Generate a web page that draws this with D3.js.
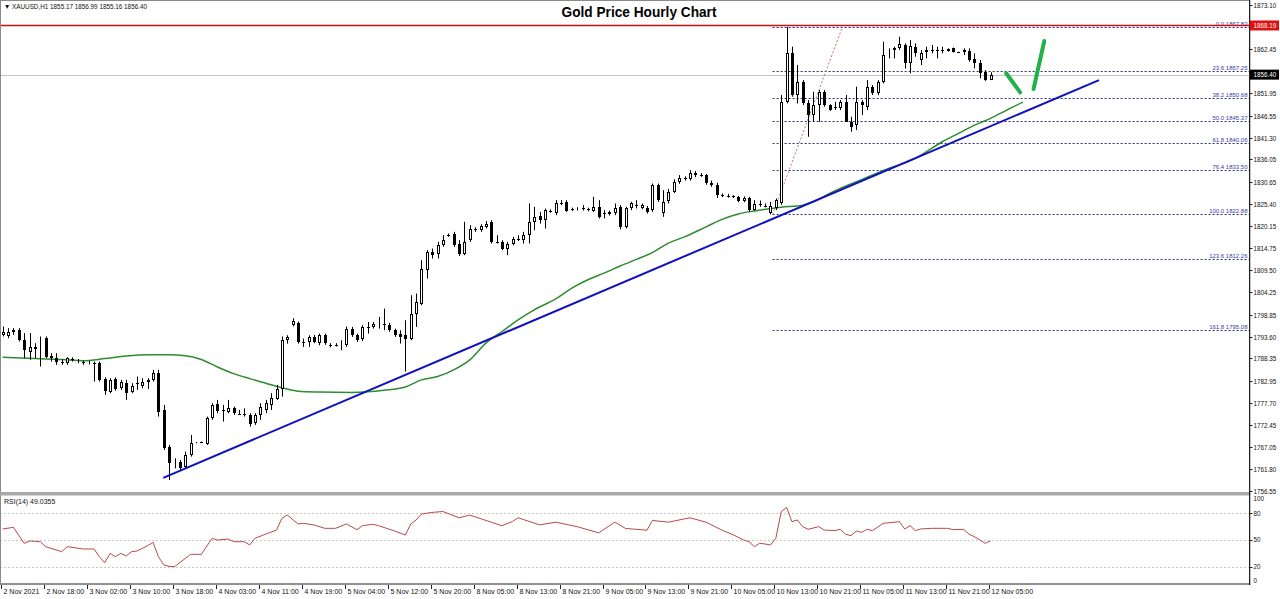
<!DOCTYPE html>
<html><head><meta charset="utf-8">
<script src="https://cdn.jsdelivr.net/npm/d3@7/dist/d3.min.js"></script>
<style>
body{margin:0;background:#fff;}
svg{display:block;}
text{font-family:"Liberation Sans",Arial,sans-serif;}
</style></head>
<body><svg id="c" width="1280" height="599"></svg>
<script>
// ---------- DATA ----------
const symbolHeader = "▼ XAUUSD,H1  1855.17 1856.99 1855.16 1856.40";
const title = "Gold Price Hourly Chart";
const rsiLabel = "RSI(14) 49.0355";
// hourly candles [open, high, low, close]
const ohlc = [
[1794.0,1796.0,1793.6,1794.8],[1793.8,1795.6,1793.2,1794.6],[1794.6,1795.6,1794.0,1795.2],[1795.2,1795.6,1792.4,1792.8],
[1792.8,1794.4,1788.4,1790.4],[1790.0,1794.4,1788.0,1791.2],[1791.2,1792.0,1788.4,1790.6],[1790.7,1793.6,1786.4,1790.9],
[1793.2,1793.6,1788.4,1788.8],[1789.0,1789.6,1787.6,1788.4],[1788.4,1789.6,1786.8,1787.6],[1787.6,1788.2,1786.8,1787.5],
[1787.2,1788.6,1786.8,1788.4],[1788.2,1788.6,1787.6,1788.0],[1787.6,1788.2,1787.2,1787.7],[1787.4,1787.8,1786.8,1787.3],
[1787.3,1787.8,1786.9,1787.4],[1787.3,1787.6,1782.8,1787.2],[1787.2,1787.6,1782.8,1783.2],[1783.4,1783.8,1779.6,1780.6],
[1780.4,1783.6,1780.0,1783.2],[1783.4,1783.8,1780.6,1781.0],[1781.2,1783.2,1780.8,1782.6],[1782.4,1783.2,1778.4,1780.1],
[1780.4,1782.4,1780.0,1781.7],[1782.4,1784.0,1780.8,1782.2],[1781.7,1783.6,1781.2,1782.8],[1782.8,1783.6,1781.0,1783.2],
[1783.2,1785.6,1782.8,1784.8],[1784.8,1785.6,1774.4,1775.6],[1776.0,1777.2,1766.4,1766.8],[1767.2,1767.6,1759.2,1763.2],
[1763.2,1764.4,1762.0,1763.6],[1763.6,1764.0,1761.6,1762.0],[1762.4,1766.0,1762.0,1765.2],[1765.2,1770.0,1764.8,1768.0],
[1768.1,1768.3,1768.0,1768.2],[1768.2,1768.4,1768.0,1768.1],[1767.8,1774.4,1767.6,1774.0],[1774.0,1777.6,1773.6,1777.2],
[1777.4,1778.4,1775.2,1775.8],[1776.0,1777.2,1773.2,1775.9],[1775.4,1778.4,1775.2,1776.4],[1776.4,1776.8,1774.8,1775.2],
[1775.1,1776.0,1774.8,1775.0],[1775.0,1776.4,1774.4,1774.9],[1774.8,1775.2,1772.0,1772.6],[1772.8,1775.2,1772.4,1774.8],
[1774.8,1777.6,1773.6,1776.6],[1776.0,1778.4,1775.2,1777.6],[1777.2,1780.0,1776.0,1778.8],[1778.5,1782.0,1778.4,1781.0],
[1781.0,1793.6,1779.2,1792.8],[1792.8,1793.9,1791.9,1793.5],[1796.4,1798.0,1796.0,1797.2],[1796.9,1797.2,1791.9,1792.4],
[1792.4,1793.1,1791.1,1792.3],[1792.3,1793.9,1791.1,1793.5],[1793.5,1794.0,1792.0,1792.3],[1792.0,1794.3,1791.5,1793.9],
[1793.9,1794.3,1791.6,1792.0],[1791.6,1792.0,1791.0,1791.5],[1791.5,1792.0,1791.2,1791.6],[1791.4,1792.7,1790.3,1791.5],
[1791.5,1796.0,1791.1,1795.5],[1795.5,1795.9,1793.5,1793.9],[1793.9,1794.3,1792.3,1792.7],[1792.9,1796.3,1792.5,1795.9],
[1795.9,1797.1,1794.3,1795.8],[1795.9,1797.1,1795.5,1796.7],[1796.7,1798.3,1795.5,1796.8],[1796.7,1800.3,1795.1,1796.6],
[1796.3,1796.9,1794.7,1795.1],[1795.1,1795.5,1793.5,1793.9],[1794.3,1795.1,1791.9,1793.5],[1793.9,1797.5,1785.2,1792.9],
[1792.9,1803.5,1792.7,1799.1],[1799.1,1803.9,1795.9,1801.9],[1801.5,1811.9,1801.1,1809.9],[1809.5,1814.3,1807.5,1813.9],
[1813.9,1814.7,1812.3,1813.1],[1813.5,1816.3,1812.3,1815.5],[1815.5,1817.9,1815.1,1816.7],[1817.9,1818.3,1817.5,1817.9],
[1818.3,1818.7,1815.1,1815.5],[1815.9,1816.7,1812.9,1813.5],[1813.5,1821.1,1813.1,1816.3],[1816.7,1820.3,1816.3,1819.5],
[1819.3,1819.8,1818.7,1819.3],[1819.1,1820.5,1818.7,1820.1],[1819.9,1821.3,1819.5,1820.7],[1821.1,1821.5,1815.9,1816.3],
[1816.3,1817.9,1815.9,1816.2],[1816.3,1816.7,1814.3,1814.7],[1814.5,1816.3,1813.1,1815.9],[1815.9,1817.5,1815.5,1817.1],
[1817.1,1817.9,1816.5,1817.1],[1816.7,1818.7,1815.9,1817.9],[1817.9,1825.5,1815.9,1821.1],[1821.1,1824.7,1819.1,1822.3],
[1822.5,1823.5,1820.7,1821.5],[1821.5,1824.3,1819.5,1823.9],[1823.8,1824.1,1823.3,1823.7],[1823.1,1826.3,1822.7,1825.5],
[1825.6,1826.3,1825.1,1825.7],[1825.9,1826.3,1823.5,1823.8],[1824.1,1824.5,1823.7,1824.0],[1824.2,1824.6,1823.8,1824.3],
[1824.3,1825.1,1823.8,1824.4],[1824.1,1824.5,1823.6,1824.0],[1823.8,1827.1,1823.5,1824.7],[1824.7,1826.3,1821.9,1822.3],
[1823.1,1823.9,1821.9,1823.2],[1823.0,1823.8,1822.6,1823.5],[1823.1,1825.5,1822.7,1824.3],[1824.7,1825.1,1819.3,1819.9],
[1819.9,1824.7,1819.5,1824.3],[1824.3,1825.9,1823.9,1825.5],[1825.1,1826.3,1824.3,1825.2],[1824.5,1825.5,1824.1,1825.1],
[1824.5,1824.9,1823.1,1823.5],[1823.9,1830.3,1823.5,1829.9],[1829.9,1830.3,1825.9,1826.3],[1823.1,1828.7,1822.3,1825.9],
[1826.0,1829.0,1825.5,1828.3],[1828.3,1831.3,1828.0,1830.7],[1830.7,1832.3,1830.2,1831.5],[1831.5,1832.0,1831.0,1831.3],
[1831.3,1833.5,1831.0,1832.7],[1832.7,1833.3,1831.8,1832.4],[1832.4,1832.8,1831.9,1832.3],[1832.3,1832.6,1830.0,1830.3],
[1830.3,1831.0,1829.5,1829.9],[1830.0,1830.5,1826.8,1827.5],[1827.5,1827.9,1827.0,1827.4],[1827.4,1827.8,1826.9,1827.2],
[1827.2,1827.5,1826.8,1827.0],[1827.0,1827.3,1825.8,1826.1],[1826.1,1827.2,1825.8,1826.7],[1826.7,1827.1,1823.5,1823.9],
[1823.9,1826.3,1823.8,1825.4],[1825.4,1826.2,1824.7,1825.3],[1825.0,1825.5,1824.6,1824.9],[1823.2,1825.9,1822.88,1824.9],
[1824.3,1826.7,1823.9,1826.3],[1825.6,1851.5,1825.2,1849.8],[1849.8,1867.83,1849.5,1861.5],[1861.5,1863.1,1851.1,1851.5],
[1851.5,1858.7,1849.5,1854.7],[1854.7,1855.1,1849.1,1849.5],[1849.5,1850.3,1841.5,1846.7],[1846.7,1852.3,1845.1,1849.1],
[1849.1,1852.7,1845.1,1852.3],[1852.3,1852.7,1848.7,1849.1],[1849.1,1849.3,1847.7,1847.9],[1848.6,1849.9,1847.9,1848.7],
[1848.3,1850.3,1847.9,1849.9],[1849.9,1851.5,1845.1,1845.1],[1845.1,1846.3,1842.7,1843.9],[1844.3,1853.5,1843.1,1849.9],
[1849.8,1850.3,1846.7,1849.0],[1848.7,1855.1,1847.9,1853.5],[1853.5,1853.9,1851.5,1851.9],[1851.9,1855.1,1851.5,1854.7],
[1854.7,1864.3,1854.3,1861.1],[1861.5,1862.7,1860.3,1861.9],[1862.3,1863.1,1860.3,1862.7],[1862.7,1865.5,1862.3,1863.7],
[1863.5,1863.9,1857.9,1859.1],[1859.1,1864.7,1856.7,1863.3],[1863.1,1863.9,1860.7,1861.5],[1859.9,1862.3,1858.7,1861.5],
[1861.8,1863.1,1860.3,1862.3],[1862.3,1863.5,1861.5,1862.4],[1862.3,1863.1,1860.3,1862.2],[1862.3,1863.1,1861.5,1862.4],
[1862.1,1862.7,1861.9,1862.5],[1862.7,1862.9,1861.7,1861.9],[1861.8,1861.9,1861.6,1861.7],[1861.8,1862.7,1861.1,1862.3],
[1862.1,1862.7,1859.5,1859.9],[1860.2,1861.5,1857.9,1859.1],[1859.1,1859.9,1855.5,1856.7],[1857.0,1857.5,1854.9,1855.1],
[1855.17,1856.99,1855.16,1856.40]
];
// moving average readings [bar, price]
const maPoints = [[0,1788.6],[6,1788.3],[12,1788.0],[15,1787.8],[19,1788.3],[23,1788.9],[27,1789.2],[31,1789.2],[34,1789.0],
[37,1788.1],[40,1786.3],[43,1784.7],[46,1783.5],[49,1782.4],[52,1781.3],[55,1780.5],[59,1780.3],[65,1780.2],[71,1780.7],
[75,1781.5],[78,1783.2],[81,1784.0],[84,1785.6],[87,1788.0],[90,1792.0],[93,1794.8],[96,1797.6],[99,1800.0],[103,1802.6],
[106,1805.2],[109,1807.2],[112,1808.8],[115,1810.5],[118,1812.1],[121,1813.7],[124,1816.0],[127,1817.5],[131,1819.9],
[134,1821.7],[137,1823.0],[140,1823.7],[145,1824.6],[149,1825.1],[151,1825.9],[154,1827.9],[156,1829.1],[159,1830.7],
[165,1833.9],[170,1836.3],[172,1837.9],[175,1840.3],[178,1842.3],[181,1844.3],[184,1845.9],[187,1847.9],[190,1849.8]];
// RSI(14) readings [bar, value]
const rsiPoints = [[0,62.4],[2,64.2],[4,46.3],[5,48.9],[7,48.1],[8,42.5],[11,36.9],[12,42.5],[15,39.9],[17,39.9],[18,31.3],
[19,24.5],[20,35.0],[21,31.3],[22,35.0],[23,32.0],[24,36.9],[25,37.6],[27,43.6],[28,47.4],[29,31.3],[30,22.0],[31,20.4],
[32,20.0],[35,33.9],[37,33.9],[39,51.9],[40,50.0],[42,51.1],[43,48.1],[45,48.1],[46,44.4],[47,51.9],[49,56.7],[51,61.2],
[52,74.3],[53,78.1],[55,68.0],[56,68.7],[58,66.9],[60,63.1],[62,63.1],[64,68.0],[66,61.6],[67,66.1],[69,67.6],[70,66.1],
[73,60.1],[75,55.6],[76,68.0],[77,72.5],[78,79.2],[80,81],[82,82],[85,75],[87,78],[91,70],[93,66],[95,71],[96,75],[100,67],
[103,70],[107,65],[111,58],[114,70],[116,63],[120,61],[121,72],[124,70],[128,75],[131,70],[134,61],[136,56],
[138,50.0],[139,48.1],[140,42.5],[141,46.3],[142,45.5],[143,44.4],[144,51.9],[145,81.8],[146,86.7],[147,70.6],[148,72.5],
[149,65.0],[150,62.0],[152,65.0],[153,61.2],[155,60.5],[156,62.0],[157,56.4],[158,54.9],[159,60.1],[160,58.6],[161,62.0],
[162,60.5],[164,68.7],[167,70.6],[168,62.4],[169,66.1],[170,60.5],[171,62.4],[173,63.1],[176,63.1],[177,61.6],[179,62.0],
[180,56.4],[181,53.7],[183,46.3],[184,49.0355]];
const rsiLevels = [80, 50, 20];
const rsiTickLabels = ["100","80","50","20","0"];
const rsiTickValues = [100,80,50,20,0];
const priceTickLabels = ["1873.10","1862.45","1851.95","1846.55","1841.30","1836.05","1830.65","1825.40",
"1820.15","1814.75","1809.50","1804.25","1798.85","1793.60","1788.35","1782.95","1777.70","1772.45","1767.05","1761.80","1756.55"];
const timeLabels = ["2 Nov 2021","2 Nov 18:00","3 Nov 02:00","3 Nov 10:00","3 Nov 18:00","4 Nov 03:00","4 Nov 11:00",
"4 Nov 19:00","5 Nov 04:00","5 Nov 12:00","5 Nov 20:00","8 Nov 05:00","8 Nov 13:00","8 Nov 21:00","9 Nov 05:00",
"9 Nov 13:00","9 Nov 21:00","10 Nov 05:00","10 Nov 13:00","10 Nov 21:00","11 Nov 05:00","11 Nov 13:00","11 Nov 21:00","12 Nov 05:00"];
const timeLabelBars = timeLabels.map((d,i)=>i*8);
const fibLevels = ["0.0","23.6","38.2","50.0","61.8","76.4","100.0","123.6","161.8"];
const fibPrices = [1867.83,1857.25,1850.68,1845.37,1840.06,1833.50,1822.88,1812.26,1795.08];
const fibAnchors = [[143.4,1822.88],[156.4,1867.83]];
const trendLine = [[29.9,1759.7],[204.2,1855.1]];
const handStrokes = [[[186.9,1856.72],[189.5,1852.16]],[[192.0,1852.96],[194.0,1864.47]]];
const askLine = 1868.19, bidLine = 1856.40;

// ---------- SCALES ----------
const svg = d3.select("#c");
const axisX = 1249.5;
const x = d3.scaleLinear().domain([0,184]).range([2.7,990.6]);
const y = d3.scaleLinear().domain([1756.55,1873.10]).range([491,5]);
const yr = d3.scaleLinear().domain([0,100]).range([584.5,495.5]);

const defs = svg.append("defs");
defs.append("clipPath").attr("id","cm").append("rect").attr("x",1).attr("y",1).attr("width",axisX-1).attr("height",491);
defs.append("clipPath").attr("id","cr").append("rect").attr("x",1).attr("y",496).attr("width",axisX-1).attr("height",87);

// frame
svg.append("rect").attr("x",0.5).attr("y",0.5).attr("width",axisX).attr("height",584).attr("fill","none").attr("stroke","#8a8a8a");
svg.append("rect").attr("x",0).attr("y",492).attr("width",axisX+1).attr("height",3.5).attr("fill","#a8a8a8");
svg.append("rect").attr("x",0).attr("y",583).attr("width",axisX+1).attr("height",2).attr("fill","#909090");
svg.append("line").attr("x1",axisX).attr("x2",axisX).attr("y1",0).attr("y2",585).attr("stroke","#202020");

const gm = svg.append("g").attr("clip-path","url(#cm)");

// bid line
gm.append("line").attr("x1",0).attr("x2",axisX).attr("y1",Math.round(y(bidLine))+0.5).attr("y2",Math.round(y(bidLine))+0.5)
  .attr("stroke","#c4c4c4");

// fib levels
const fibX0 = x(fibAnchors[0][0]);
fibPrices.forEach((p,i)=>{
  const yy = Math.round(y(p))+0.5;
  gm.append("line").attr("x1",fibX0).attr("x2",axisX).attr("y1",yy).attr("y2",yy)
    .attr("stroke","#2a2a8a").attr("stroke-dasharray","2,2");
  gm.append("text").attr("x",axisX-2).attr("y",yy-1.5).attr("text-anchor","end")
    .attr("font-size","6px").attr("fill","#3a3aa8").text(fibLevels[i]+" "+p.toFixed(2));
});
// fib diagonal
gm.append("line").attr("x1",x(fibAnchors[0][0])).attr("y1",y(fibAnchors[0][1]))
  .attr("x2",x(fibAnchors[1][0])).attr("y2",y(fibAnchors[1][1]))
  .attr("stroke","#c07070").attr("stroke-dasharray","2,2");

// red ask line
gm.append("line").attr("x1",0).attr("x2",axisX).attr("y1",y(askLine)).attr("y2",y(askLine))
  .attr("stroke","#d01010").attr("stroke-width",1.6);

// moving average
gm.append("path").datum(maPoints).attr("fill","none").attr("stroke","#2e8b2e").attr("stroke-width",1.5)
  .attr("d",d3.line().x(d=>x(d[0])).y(d=>y(d[1])).curve(d3.curveMonotoneX));

// candles
const cg = gm.append("g");
ohlc.forEach((d,i)=>{
  const c = Math.round(x(i));
  const [o,h,l,cl] = d;
  cg.append("line").attr("x1",c+0.5).attr("x2",c+0.5).attr("y1",y(h)).attr("y2",y(l)).attr("stroke","#000");
  const top = Math.round(y(Math.max(o,cl))), bot = Math.round(y(Math.min(o,cl)));
  if (bot-top < 1) {
    cg.append("line").attr("x1",c-1).attr("x2",c+2).attr("y1",top+0.5).attr("y2",top+0.5).attr("stroke","#000");
  } else if (cl >= o) {
    cg.append("rect").attr("x",c-1+0.5).attr("y",top+0.5).attr("width",2).attr("height",Math.max(bot-top-1,0))
      .attr("fill","#fff").attr("stroke","#000");
  } else {
    cg.append("rect").attr("x",c-1).attr("y",top).attr("width",3).attr("height",bot-top).attr("fill","#000");
  }
});

// blue trend line
gm.append("line").attr("x1",x(trendLine[0][0])).attr("y1",y(trendLine[0][1]))
  .attr("x2",x(trendLine[1][0])).attr("y2",y(trendLine[1][1])).attr("stroke","#1010c0").attr("stroke-width",2);

// hand drawn green strokes
handStrokes.forEach(s=>{
  gm.append("line").attr("x1",x(s[0][0])).attr("y1",y(s[0][1])).attr("x2",x(s[1][0])).attr("y2",y(s[1][1]))
    .attr("stroke","#22b24a").attr("stroke-width",4).attr("stroke-linecap","round");
});

// price axis labels
priceTickLabels.forEach(t=>{
  const yy = Math.round(y(+t))+0.5;
  svg.append("line").attr("x1",axisX).attr("x2",axisX+3).attr("y1",yy).attr("y2",yy).attr("stroke","#202020");
  svg.append("text").attr("x",axisX+4).attr("y",yy).attr("dy","0.35em").attr("font-size","6.3px").attr("fill","#111").text(t);
});
// boxes
function box(v,fill){
  const yy = y(v);
  svg.append("rect").attr("x",axisX+0.5).attr("y",yy-5).attr("width",29).attr("height",10).attr("fill",fill);
  svg.append("text").attr("x",axisX+4).attr("y",yy).attr("dy","0.35em").attr("font-size","6.3px").attr("fill","#fff").text(v.toFixed(2));
}
box(askLine,"#e01010");
box(bidLine,"#000");

// RSI panel
const gr = svg.append("g").attr("clip-path","url(#cr)");
rsiLevels.forEach(v=>{
  gr.append("line").attr("x1",0).attr("x2",axisX).attr("y1",Math.round(yr(v))+0.5).attr("y2",Math.round(yr(v))+0.5)
    .attr("stroke","#c8c8c8").attr("stroke-dasharray","2,2");
});
gr.append("path").datum(rsiPoints).attr("fill","none").attr("stroke","#b84a4a").attr("stroke-width",1)
  .attr("d",d3.line().x(d=>x(d[0])).y(d=>yr(d[1])));
rsiTickValues.forEach((v,i)=>{
  let yy = yr(v);
  if (v===100) yy = 499; if (v===0) yy = 580.5;
  svg.append("text").attr("x",axisX+4).attr("y",yy).attr("dy","0.35em").attr("font-size","6.3px").attr("fill","#111").text(rsiTickLabels[i]);
  if (v!==100 && v!==0) svg.append("line").attr("x1",axisX).attr("x2",axisX+3).attr("y1",Math.round(yy)+0.5).attr("y2",Math.round(yy)+0.5).attr("stroke","#202020");
});
svg.append("text").attr("x",4).attr("y",501.5).attr("dy","0.35em").attr("font-size","7px").attr("fill","#111").text(rsiLabel);

// time axis
timeLabels.forEach((t,i)=>{
  const xx = Math.round(x(timeLabelBars[i])-1.5)+0.5;
  svg.append("line").attr("x1",xx).attr("x2",xx).attr("y1",585).attr("y2",589).attr("stroke","#202020");
  svg.append("text").attr("x",xx+2).attr("y",591.5).attr("dy","0.35em").attr("font-size","7px").attr("fill","#111").text(t);
});

// header & title
svg.append("text").attr("x",4).attr("y",7).attr("dy","0.35em").attr("font-size","6.8px").attr("fill","#111")
  .attr("textLength",143).attr("lengthAdjust","spacingAndGlyphs").text(symbolHeader);
svg.append("text").attr("x",639).attr("y",11.5).attr("dy","0.35em").attr("text-anchor","middle")
  .attr("font-size","15px").attr("font-weight","bold").attr("fill","#000")
  .attr("textLength",155).attr("lengthAdjust","spacingAndGlyphs").text(title);
</script>
</body></html>
